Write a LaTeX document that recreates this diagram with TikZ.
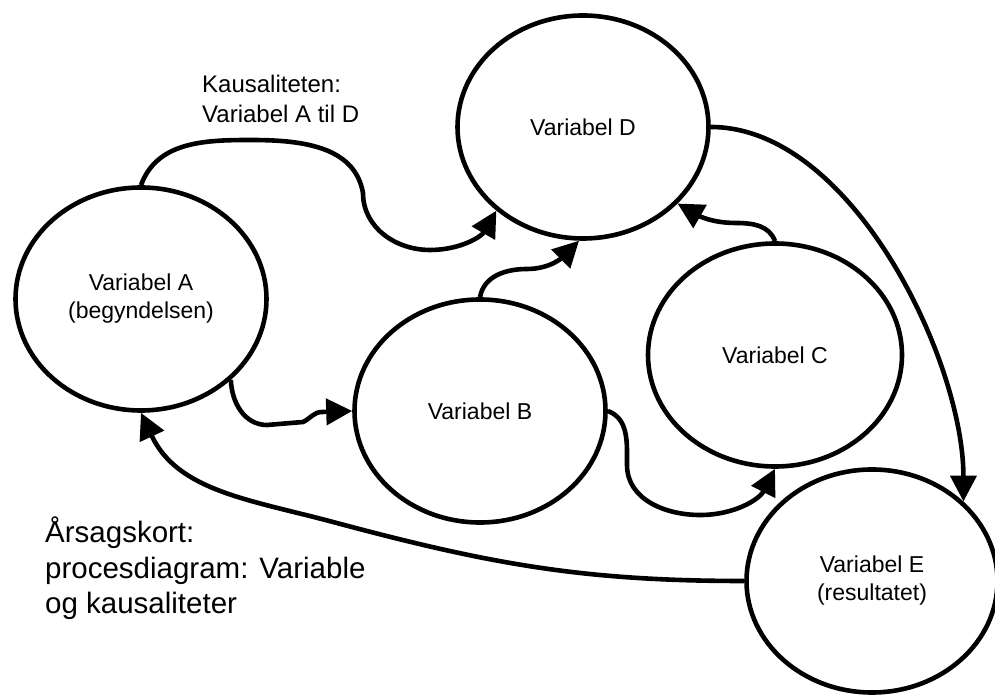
\documentclass[tikz,border=0pt]{standalone}
\usepackage{fontspec}
\setmainfont{Liberation Sans}
\usetikzlibrary{arrows.meta,shapes.geometric}
\begin{document}
\begin{tikzpicture}[x=1pt,y=1pt,
  var/.style={ellipse, draw, line width=4.6pt, minimum width=251pt, minimum height=223pt,
    inner sep=0pt, align=center, font=\fontsize{23}{28}\selectfont},
  conn/.style={line width=4.6pt, -{Triangle[length=26pt,width=26pt]}},
  lbl/.style={anchor=base west, align=left, inner sep=0pt}]
\useasboundingbox (0,0) rectangle (995,695);
\node[var] (D) at (583,568) {Variabel D};
\node[var] (A) at (141,396) {Variabel A\\(begyndelsen)};
\node[var] (B) at (480,284) {Variabel B};
\node[var, minimum width=254pt] (C) at (775,340) {Variabel C};
\node[var] (E) at (872,114) {Variabel E\\(resultatet)};
\node[lbl, font=\fontsize{24}{30}\selectfont] (K) at (202,572) {Kausaliteten:\\Variabel A til D};
\node[lbl, font=\fontsize{29.5}{35.5}\selectfont] (T) at (45,81) {Årsagskort:\\procesdiagram: Variable\\og kausaliteter};
% A -> D
\draw[conn] (A.north) to[out=70,in=180] (250,555) to[out=0,in=100] (363,502)
  to[out=-90,in=180] (430,445) to[out=0,in=240] (D.224);
% A -> B
\draw[conn] (A.318) to[out=-88,in=180] (267,270) -- (303,273)
  to[out=25,in=180] (322,283) -- (B.west);
% B -> D
\draw[conn] (B.north) to[out=80,in=180] (527,426) to[out=0,in=225] (D.268);
% C -> D
\draw[conn] (C.north) to[out=110,in=0] (736,472) to[out=180,in=330] (D.321);
% B -> C
\draw[conn] (B.east) to[out=-20,in=90] (627,230) to[out=-90,in=180] (700,180)
  to[out=0,in=243] (C.south);
% D -> E
\draw[conn] (D.east) to[out=0,in=90,looseness=0.8] (E.41);
% E -> A
\draw[conn] (E.west) to[out=180,in=-15] (333,173) to[out=165,in=295] (A.south);
\end{tikzpicture}
\end{document}
